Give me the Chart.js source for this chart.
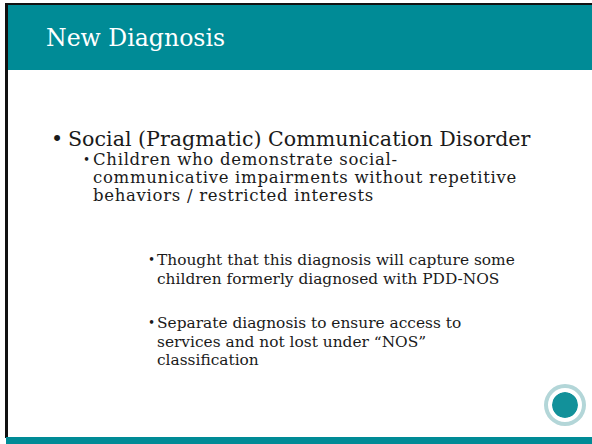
<!DOCTYPE html>
<html>
<head>
<meta charset="utf-8">
<script src="https://cdn.jsdelivr.net/npm/chart.js@4.4.0/dist/chart.umd.min.js"></script>
<style>
    html, body { margin: 0; padding: 0; background: #ffffff; }
    #slide { position: relative; width: 592px; height: 444px; overflow: hidden; background: #ffffff; font-family: "DejaVu Serif", serif; color: #1a1a1a; }
    .frameTop { position: absolute; left: 5px; top: 3px; width: 587px; height: 2px; background: #111; }
    .frameLeft { position: absolute; left: 5px; top: 3px; width: 3px; height: 435px; background: #111; }
    .header { position: absolute; left: 8px; top: 5px; width: 584px; height: 65px; background: #008b96; }
    .footer { position: absolute; left: 6px; top: 437px; width: 586px; height: 7px; background: #008b96; }
    .title { position: absolute; left: 46px; top: 24px; font-size: 23.6px; color: #fff; white-space: nowrap; }
    .para { position: absolute; white-space: nowrap; }
    .b { position: absolute; line-height: 1; }
    .l1 { font-size: 20.6px; line-height: 1; }
    .l2 { font-size: 16.5px; line-height: 18px; letter-spacing: 0.7px; }
    .l3 { font-size: 15.4px; line-height: 18.5px; }
    .b.l2, .b.l3 { font-size: 12px; line-height: 1; letter-spacing: 0; }
    #logoBox { position: absolute; left: 544px; top: 384px; width: 42px; height: 42px; }
</style>
</head>
<body>
<div id="slide">
    <div class="header"></div>
    <div class="frameTop"></div>
    <div class="frameLeft"></div>
    <div class="footer"></div>
    <div class="title">New Diagnosis</div>

    <div class="b l1" style="left:51px;top:129px">•</div>
    <div class="para l1" style="left:68px;top:129px">Social (Pragmatic) Communication Disorder</div>

    <div class="b l2" style="left:83px;top:154px">•</div>
    <div class="para l2" style="left:93px;top:151px">Children who demonstrate social-<br>communicative impairments without repetitive<br>behaviors / restricted interests</div>

    <div class="b l3" style="left:148px;top:254px">•</div>
    <div class="para l3" style="left:157px;top:251px">Thought that this diagnosis will capture some<br>children formerly diagnosed with PDD-NOS</div>

    <div class="b l3" style="left:148px;top:317px">•</div>
    <div class="para l3" style="left:157px;top:314px">Separate diagnosis to ensure access to<br>services and not lost under “NOS”<br>classification</div>

    <div id="logoBox"><canvas id="logo"></canvas></div>
</div>
<script>
// logo rings, outermost first
const logoLabels = ['Center for Developmental Disabilities'];
const ringText = [1];
const ringGap = [1];
const ringSeal = [1];

const ctx = document.getElementById('logo').getContext('2d');
const logo = new Chart(ctx, {
    type: 'doughnut',
    data: {
        labels: logoLabels,
        datasets: [
            { data: ringText, backgroundColor: '#b3d6d8', borderWidth: 0, weight: 4 },
            { data: ringGap, backgroundColor: '#ffffff', borderWidth: 0, weight: 4 },
            { data: ringSeal, backgroundColor: '#12919a', borderWidth: 0, weight: 13 }
        ]
    },
    options: {
        responsive: true,
        maintainAspectRatio: false,
        animation: false,
        cutout: 0,
        plugins: { legend: { display: false }, tooltip: { enabled: false } }
    }
});
</script>
</body>
</html>
